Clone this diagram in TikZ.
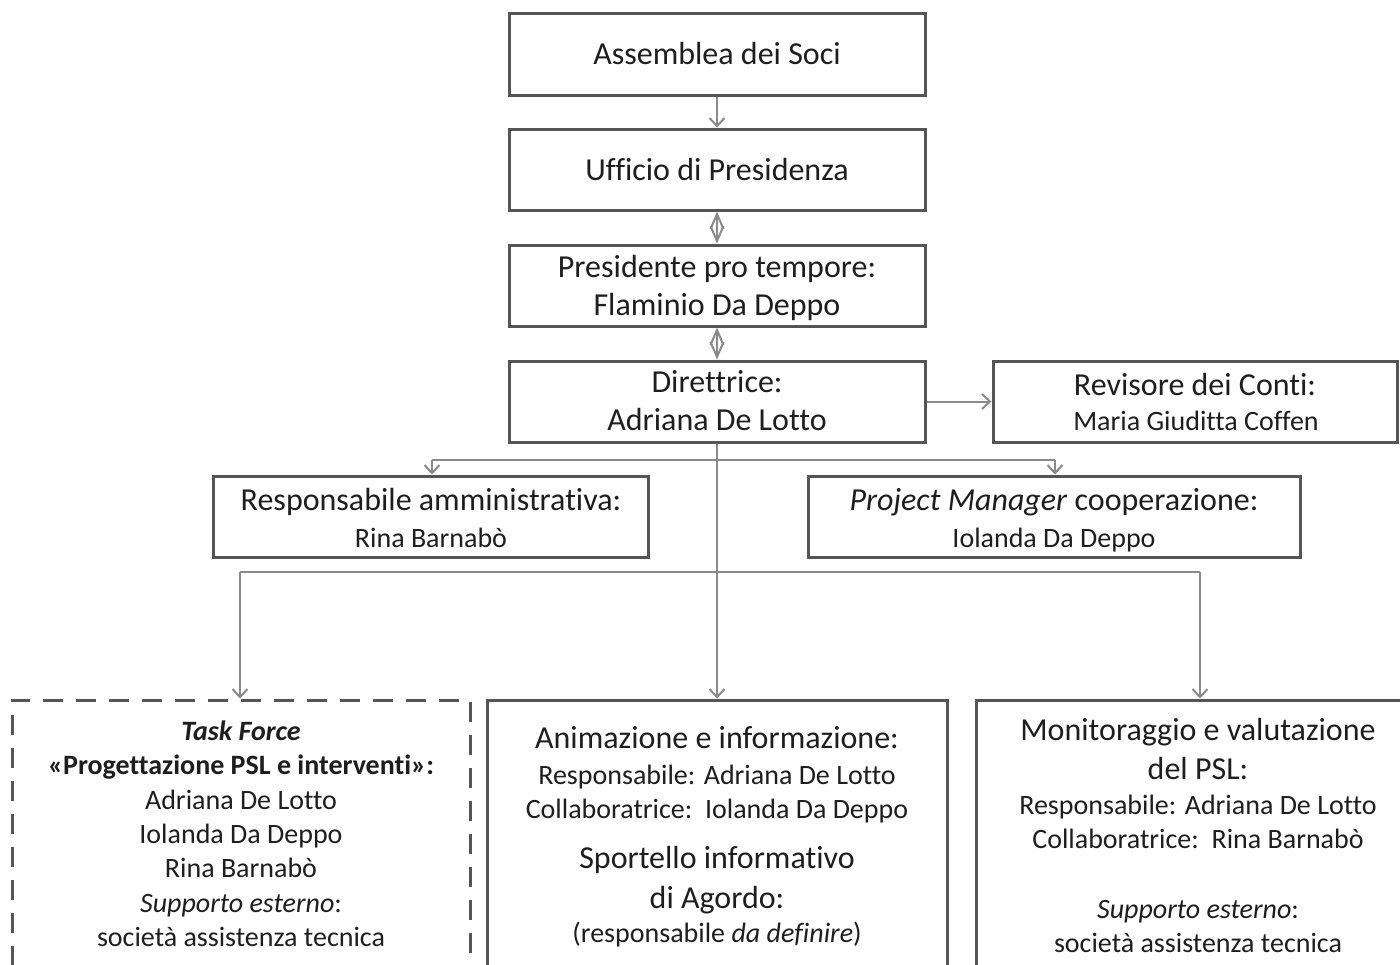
\documentclass[tikz,border=0pt]{standalone}
\usepackage{fontspec}
\setmainfont{Carlito}[Ligatures=NoCommon]
\usetikzlibrary{arrows.meta}
\definecolor{txtc}{HTML}{1E1E1E}
\definecolor{boxc}{HTML}{555555}
\definecolor{linec}{HTML}{8A8A8A}
\begin{document}
\begin{tikzpicture}[x=1pt,y=-1pt,
  box/.style={draw=boxc, line width=3pt, inner sep=0pt},
  dbox/.style={box, dash pattern=on 20pt off 13pt},
  big/.style={font=\fontsize{32}{38}\selectfont, text=txtc, anchor=base, inner sep=0pt},
  small/.style={font=\fontsize{28}{34}\selectfont, text=txtc, anchor=base, inner sep=0pt},
  conn/.style={draw=linec, line width=2pt},
  barb/.tip={Straight Barb[length=8pt,width=15pt,line width=2pt]},
  dbarb/.tip={Straight Barb[length=15pt,width=13pt,line width=2pt]},
  arr/.style={conn, -barb},
  darr/.style={conn, dbarb-dbarb},
]
\clip (0,0) rectangle (1400,964);
\fill[white] (0,0) rectangle (1400,964);

% boxes
\node[box, minimum width=416pt, minimum height=82pt] (ass) at (717,54) {};
\node[box, minimum width=416pt, minimum height=81pt] (uff) at (717,169.5) {};
\node[box, minimum width=416pt, minimum height=81pt] (pres) at (717,285.5) {};
\node[box, minimum width=416pt, minimum height=81pt] (dir) at (717,401.5) {};
\node[box, minimum width=404pt, minimum height=81pt] (rev) at (1195,401.5) {};
\node[box, minimum width=435pt, minimum height=81pt] (ram) at (430.5,516.5) {};
\node[box, minimum width=492pt, minimum height=81pt] (pm) at (1054,516.5) {};
\node[dbox, minimum width=458pt, minimum height=290pt] (tf) at (241,845) {};
\node[box, minimum width=460pt, minimum height=290pt] (ani) at (717,845) {};
\node[box, minimum width=444pt, minimum height=290pt] (mon) at (1198,845) {};

% texts
\node[big] (t1) at (717,64) {Assemblea dei Soci};
\node[big] (t2) at (717,180) {Ufficio di Presidenza};
\node[big] (t3a) at (717,277) {Presidente pro tempore:};
\node[big] (t3b) at (717,315) {Flaminio Da Deppo};
\node[big] (t4a) at (717,392) {Direttrice:};
\node[big] (t4b) at (717,430) {Adriana De Lotto};
\node[big] (t5a) at (1195,395) {Revisore dei Conti:};
\node[small] (t5b) at (1196,430) {Maria Giuditta Coffen};
\node[big] (t6a) at (431,510) {Responsabile amministrativa:};
\node[small] (t6b) at (431,547) {Rina Barnabò};
\node[big] (t7a) at (1054,510) {\textit{Project Manager} cooperazione:};
\node[small] (t7b) at (1054,547) {Iolanda Da Deppo};

\node[small] (f1) at (241,740) {\textbf{\textit{Task Force}}};
\node[small] (f2) at (241,774) {\textbf{«Progettazione PSL e interventi»:}};
\node[small] (f3) at (241,809) {Adriana De Lotto};
\node[small] (f4) at (241,843) {Iolanda Da Deppo};
\node[small] (f5) at (241,877) {Rina Barnabò};
\node[small] (f6) at (241,912) {\textit{Supporto esterno}:};
\node[small] (f7) at (241,946) {società assistenza tecnica};

\node[big] (a1) at (717,748) {Animazione e informazione:};
\node[small] (a2) at (717,784) {Responsabile: Adriana De Lotto};
\node[small] (a3) at (717,818) {Collaboratrice:\ \ Iolanda Da Deppo};
\node[big] (a4) at (717,868) {Sportello informativo};
\node[big] (a5) at (717,908) {di Agordo:};
\node[small] (a6) at (717,942) {(responsabile \textit{da definire})};

\node[big] (m1) at (1198,740) {Monitoraggio e valutazione};
\node[big] (m2) at (1198,779) {del PSL:};
\node[small] (m3) at (1198,814) {Responsabile: Adriana De Lotto};
\node[small] (m4) at (1198,848) {Collaboratrice:\ \ Rina Barnabò};
\node[small] (m5) at (1198,918) {\textit{Supporto esterno}:};
\node[small] (m6) at (1198,952) {società assistenza tecnica};

% connectors
\draw[arr] (ass.south) -- (uff.north);
\draw[darr] (uff.south) -- (pres.north);
\draw[darr] (pres.south) -- (dir.north);
\draw[arr] (dir.east) -- (rev.west);
\draw[arr] (dir.south) -- (ani.north);
\coordinate (jA) at (432,460);
\coordinate (jB) at (1055,460);
\draw[conn] (jA) -- (jB);
\draw[arr] (jA) -- (jA |- ram.north);
\draw[arr] (jB) -- (jB |- pm.north);
\coordinate (kA) at (240,572);
\coordinate (kB) at (1200,572);
\draw[conn] (kA) -- (kB);
\draw[arr] (kA) -- (kA |- tf.north);
\draw[arr] (kB) -- (kB |- mon.north);
\end{tikzpicture}
\end{document}
